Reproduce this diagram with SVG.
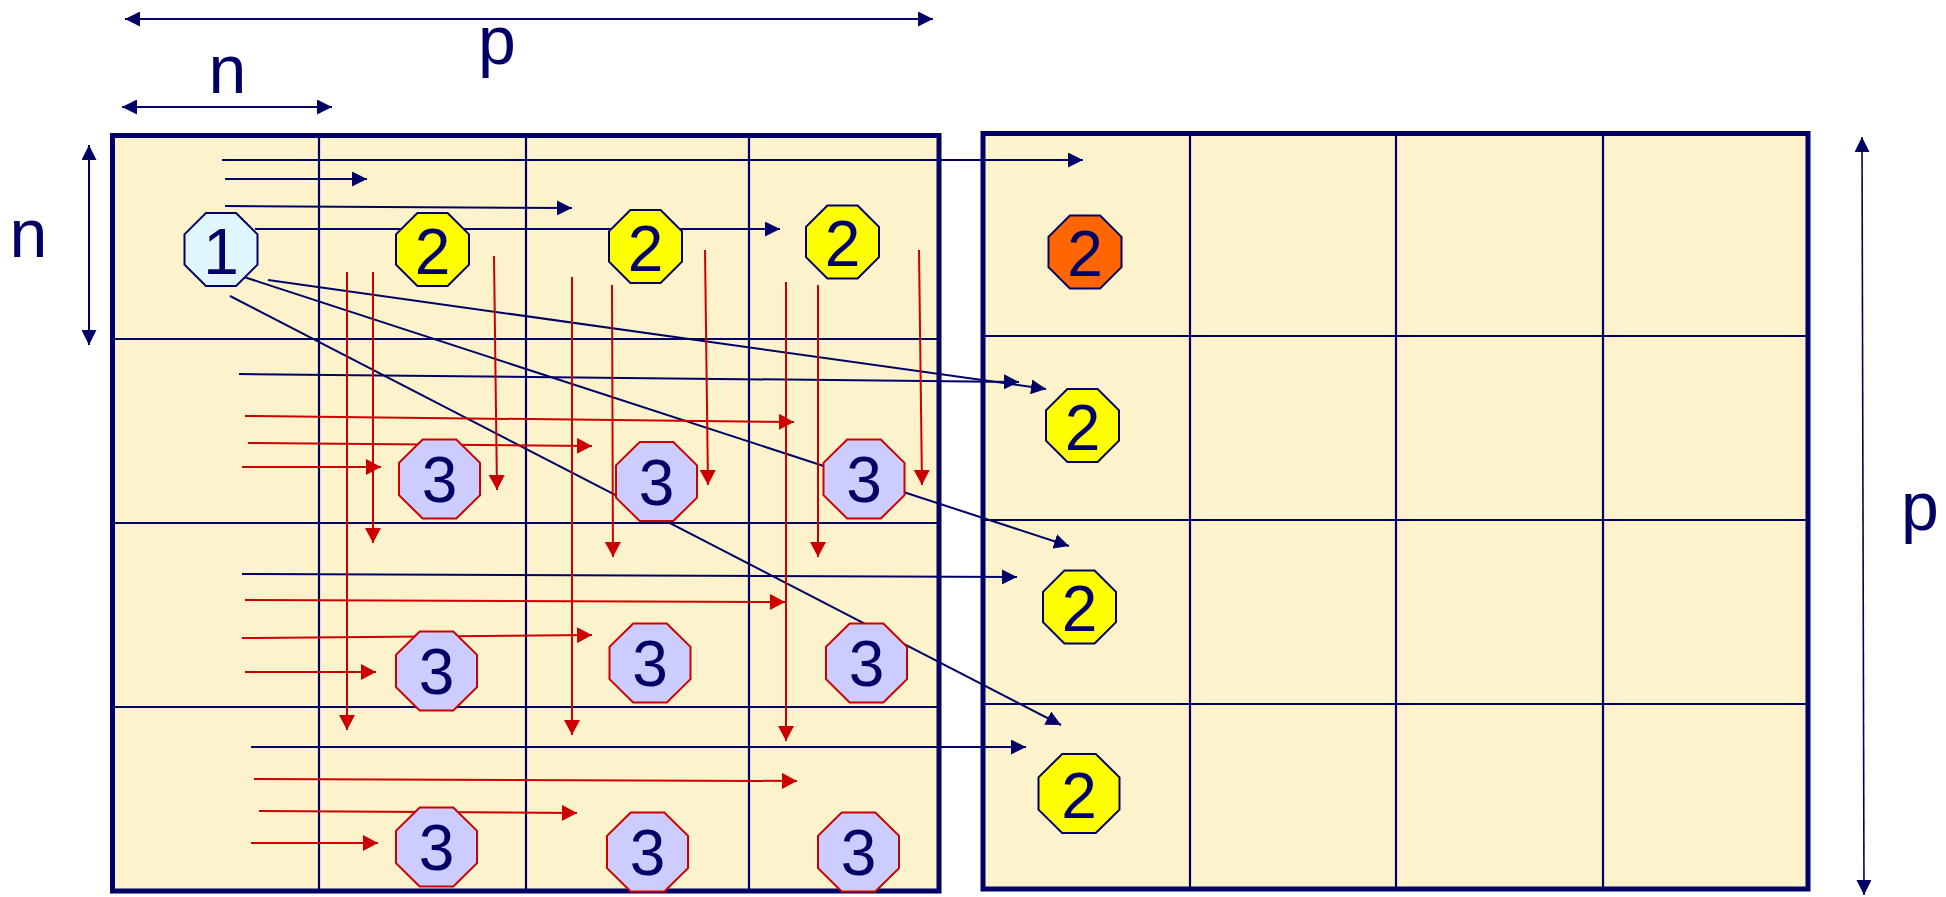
<svg xmlns="http://www.w3.org/2000/svg" xmlns:xlink="http://www.w3.org/1999/xlink" width="1946" height="897" viewBox="0 0 1946 897">
<style>
.box{fill:#FCF2CB;stroke:#000066;stroke-width:5}
.grid{stroke:#000066;stroke-width:2.2;fill:none}
.bl{stroke:#000066;stroke-width:2;fill:none;marker-end:url(#ab)}
.rd{stroke:#CC0000;stroke-width:2;fill:none;marker-end:url(#ar)}
.dim{stroke:#000066;stroke-width:2;fill:none;marker-start:url(#ab2);marker-end:url(#ab2)}
.lbl{font-family:"Liberation Sans",Arial,sans-serif;font-size:68px;fill:#000066;text-anchor:middle}
.num{font-family:"Liberation Sans",Arial,sans-serif;font-size:64px;fill:#000066;text-anchor:middle}
.c1{fill:#DFF7FC;stroke:#000066;stroke-width:2}
.c2{fill:#FFFF00;stroke:#000066;stroke-width:2}
.c2o{fill:#FF6600;stroke:#000066;stroke-width:2}
.c3{fill:#CCCCFF;stroke:#CC0000;stroke-width:2}
</style>
<defs>
<marker id="ab" viewBox="0 0 15 15" refX="15" refY="7.5" markerWidth="15" markerHeight="15" markerUnits="userSpaceOnUse" orient="auto"><path d="M0,0 L15,7.5 L0,15 z" fill="#000066"/></marker>
<marker id="ab2" viewBox="0 0 15 15" refX="15" refY="7.5" markerWidth="15" markerHeight="15" markerUnits="userSpaceOnUse" orient="auto-start-reverse"><path d="M0,0 L15,7.5 L0,15 z" fill="#000066"/></marker>
<marker id="ar" viewBox="0 0 15 16" refX="15" refY="8" markerWidth="15" markerHeight="16" markerUnits="userSpaceOnUse" orient="auto"><path d="M0,0 L15,8 L0,16 z" fill="#CC0000"/></marker>
<polygon id="o73" points="-15.1,-36.5 15.1,-36.5 36.5,-15.1 36.5,15.1 15.1,36.5 -15.1,36.5 -36.5,15.1 -36.5,-15.1"/>
<polygon id="o80" points="-16.8,-39.5 16.8,-39.5 40.5,-16.2 40.5,16.2 16.8,39.5 -16.8,39.5 -40.5,16.2 -40.5,-16.2"/>
</defs>
<rect width="1946" height="897" fill="#FFFFFF"/>

<g id="left-matrix">
<rect class="box" x="112.5" y="135.5" width="826.5" height="755.5"/>
<path class="grid" d="M319,136 V891 M526,136 V891 M749,136 V891 M113,339 H939 M113,523 H939 M113,707 H939"/>
</g>

<g id="right-matrix">
<rect class="box" x="983" y="133.5" width="825" height="755.5"/>
<path class="grid" d="M1190,134 V889 M1396,134 V889 M1603,134 V889 M983,336 H1808 M983,520 H1808 M983,704 H1808"/>
</g>

<g id="dimensions">
<line class="dim" x1="125" y1="19" x2="933" y2="19"/>
<line class="dim" x1="122" y1="107" x2="332" y2="107"/>
<line class="dim" x1="89" y1="145" x2="89" y2="345"/>
<line class="dim" x1="1862" y1="137" x2="1864" y2="895" style="stroke-width:1.6"/>
<text class="lbl" x="497" y="64">p</text>
<text class="lbl" x="227.5" y="93">n</text>
<text class="lbl" x="28.5" y="257">n</text>
<text class="lbl" x="1920" y="530">p</text>
</g>

<g id="connectors">
<line class="bl" x1="222" y1="160" x2="1083" y2="160"/>
<line class="bl" x1="225" y1="179" x2="367" y2="179"/>
<line class="bl" x1="225" y1="206" x2="572" y2="208"/>
<line class="bl" x1="255" y1="229" x2="780" y2="229"/>
<line class="bl" x1="268" y1="280" x2="1046" y2="389"/>
<line class="bl" x1="244" y1="277" x2="1069" y2="546"/>
<line class="bl" x1="230" y1="296" x2="1061" y2="725"/>
<line class="bl" x1="239" y1="374" x2="1019" y2="382"/>
<line class="bl" x1="242" y1="574" x2="1017" y2="577"/>
<line class="bl" x1="251" y1="747" x2="1026" y2="747"/>

<line class="rd" x1="347" y1="272" x2="347" y2="730"/>
<line class="rd" x1="373" y1="272" x2="373" y2="543"/>
<line class="rd" x1="494" y1="256" x2="497" y2="490"/>
<line class="rd" x1="572" y1="277" x2="572" y2="735"/>
<line class="rd" x1="612" y1="285" x2="613" y2="557"/>
<line class="rd" x1="705" y1="250" x2="708" y2="485"/>
<line class="rd" x1="786" y1="282" x2="786" y2="741"/>
<line class="rd" x1="818" y1="285" x2="818" y2="557"/>
<line class="rd" x1="919" y1="250" x2="922" y2="485"/>

<line class="rd" x1="245" y1="416" x2="794" y2="422"/>
<line class="rd" x1="248" y1="443" x2="592" y2="446"/>
<line class="rd" x1="242" y1="467" x2="381" y2="467"/>
<line class="rd" x1="245" y1="600" x2="785" y2="602"/>
<line class="rd" x1="242" y1="638" x2="592" y2="635"/>
<line class="rd" x1="245" y1="672" x2="376" y2="672"/>
<line class="rd" x1="254" y1="779" x2="797" y2="781"/>
<line class="rd" x1="259" y1="811" x2="577" y2="813"/>
<line class="rd" x1="251" y1="843" x2="378" y2="843"/>
</g>

<g id="node-1"><use xlink:href="#o73" class="c1" x="221" y="249.5"/><text class="num" x="221" y="273.5">1</text></g>
<g id="node-2a"><use xlink:href="#o73" class="c2" x="432.5" y="249.5"/><text class="num" x="432.5" y="273.5">2</text></g>
<g id="node-2b"><use xlink:href="#o73" class="c2" x="645.5" y="246.5"/><text class="num" x="645.5" y="270.5">2</text></g>
<g id="node-2c"><use xlink:href="#o73" class="c2" x="842.5" y="242"/><text class="num" x="842.5" y="266">2</text></g>

<g id="node-3-r2c2"><use xlink:href="#o80" class="c3" x="439.5" y="479"/><text class="num" x="439.5" y="502">3</text></g>
<g id="node-3-r2c3"><use xlink:href="#o80" class="c3" x="656.5" y="481.5"/><text class="num" x="656.5" y="504.5">3</text></g>
<g id="node-3-r2c4"><use xlink:href="#o80" class="c3" x="864" y="479"/><text class="num" x="864" y="502">3</text></g>
<g id="node-3-r3c2"><use xlink:href="#o80" class="c3" x="436.5" y="671"/><text class="num" x="436.5" y="694">3</text></g>
<g id="node-3-r3c3"><use xlink:href="#o80" class="c3" x="650" y="663"/><text class="num" x="650" y="686">3</text></g>
<g id="node-3-r3c4"><use xlink:href="#o80" class="c3" x="866.5" y="663"/><text class="num" x="866.5" y="686">3</text></g>
<g id="node-3-r4c2"><use xlink:href="#o80" class="c3" x="436.5" y="847"/><text class="num" x="436.5" y="870">3</text></g>
<g id="node-3-r4c3"><use xlink:href="#o80" class="c3" x="647.5" y="852"/><text class="num" x="647.5" y="875">3</text></g>
<g id="node-3-r4c4"><use xlink:href="#o80" class="c3" x="858.5" y="852"/><text class="num" x="858.5" y="875">3</text></g>

<g id="node-r-2o"><use xlink:href="#o73" class="c2o" x="1085" y="252"/><text class="num" x="1085" y="276">2</text></g>
<g id="node-r-2b"><use xlink:href="#o73" class="c2" x="1082.5" y="425.5"/><text class="num" x="1082.5" y="449.5">2</text></g>
<g id="node-r-2c"><use xlink:href="#o73" class="c2" x="1079.5" y="607"/><text class="num" x="1079.5" y="631">2</text></g>
<g id="node-r-2d"><use xlink:href="#o80" class="c2" x="1079" y="793.5"/><text class="num" x="1079" y="817.5">2</text></g>
</svg>
